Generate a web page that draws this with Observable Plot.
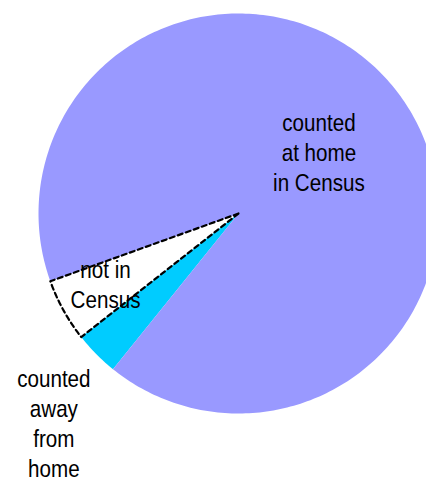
<!DOCTYPE html>
<html>
<head>
<meta charset="utf-8">
<script src="https://cdn.jsdelivr.net/npm/d3@7"></script>
<script src="https://cdn.jsdelivr.net/npm/@observablehq/plot@0.6"></script>
<style>
  html, body { margin: 0; padding: 0; background: white; overflow: hidden; }
</style>
</head>
<body>
<div id="chart"></div>
<script>
// ---- data ----
const categories = ["not in Census", "counted away from home", "counted at home in Census"];
const labels = ["not in\nCensus", "counted\naway\nfrom\nhome", "counted\nat home\nin Census"];
const shares = [5.1, 3.6, 91.3];
const colors = ["#ffffff", "#00ccff", "#9999ff"];

// ---- layout (not data) ----
const startDeg = 199.8;            // where the first slice begins (counter-clockwise)
const labelRadius = [0.76, 1.41, 0.5];
const labelDx = [0, 16, -1];
const labelDy = [-4, 11, -4];
const squeeze = 0.86;              // the original type is slightly condensed

const total = d3.sum(shares);
let acc = startDeg * Math.PI / 180;
const slices = categories.map((name, i) => {
  const a0 = acc;
  const a1 = acc + shares[i] / total * 2 * Math.PI;
  acc = a1;
  return {name, label: labels[i], a0, a1, i};
});

const polyPts = [];
for (const s of slices) {
  polyPts.push({name: s.name, x: 0, y: 0});
  const n = Math.max(4, Math.ceil((s.a1 - s.a0) * 180 / Math.PI));
  for (let k = 0; k <= n; k++) {
    const a = s.a0 + (s.a1 - s.a0) * k / n;
    polyPts.push({name: s.name, x: Math.cos(a), y: Math.sin(a)});
  }
}

const labelPts = slices.map(s => {
  const m = (s.a0 + s.a1) / 2;
  return {name: s.name, label: s.label, x: labelRadius[s.i] * Math.cos(m), y: labelRadius[s.i] * Math.sin(m), dx: labelDx[s.i], dy: labelDy[s.i]};
});

const chart = Plot.plot({
  width: 426,
  height: 481,
  margin: 0,
  x: {domain: [-1.19, 0.94], axis: null},
  y: {domain: [-1.34, 1.065], axis: null},
  color: {domain: categories, range: colors},
  style: {fontFamily: "'Liberation Sans', Arial, Helvetica, sans-serif", background: "white"},
  marks: [
    Plot.line(polyPts, {x: "x", y: "y", z: "name", fill: "name", stroke: "none", curve: "linear-closed"}),
    Plot.line(polyPts.filter(d => d.name === categories[0]), {
      x: "x", y: "y", stroke: "black", strokeWidth: 2.2, strokeDasharray: "5,3.5", curve: "linear-closed", fill: "none"
    }),
    ...labelPts.map(d => Plot.text([d], {
      x: "x", y: "y", text: "label", fontSize: 24, lineHeight: 1.25, fill: "black",
      dx: d.dx, dy: d.dy, textAnchor: "middle", lineAnchor: "middle"
    }))
  ]
});
d3.select(chart).selectAll("text").each(function() {
  const t = this.getAttribute("transform") || "";
  this.setAttribute("transform", `${t} scale(${squeeze},1)`);
});
document.getElementById("chart").appendChild(chart);
</script>
</body>
</html>
